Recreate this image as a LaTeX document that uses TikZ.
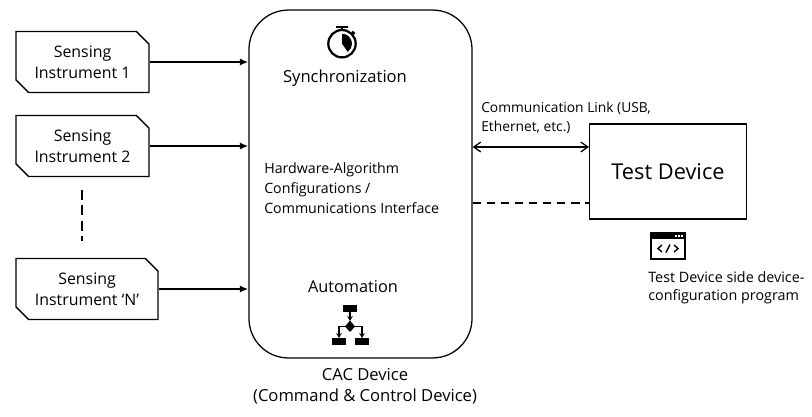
\documentclass[tikz,border=0pt]{standalone}
\usepackage{fontspec}
\setmainfont{Open Sans}
\usepackage{tikz}
\usetikzlibrary{arrows.meta,positioning,shapes.misc,calc}
\tikzset{
  instrument/.style={draw,line width=0.9pt,chamfered rectangle,
    chamfered rectangle corners={north east,south west},
    chamfered rectangle xsep=4.5pt,chamfered rectangle ysep=4.5pt,
    minimum height=43.4pt,inner sep=0pt,align=center,font=\fontsize{11.3}{15}\selectfont},
  feed/.style={line width=1.3pt,-{Latex[length=6pt,width=5pt]}},
  label/.style={inner sep=0pt,align=left,font=\fontsize{10.1}{14.3}\selectfont},
  icon/.style={line width=1.6pt,black}
}
\begin{document}
\begin{tikzpicture}[x=0.025cm,y=-0.025cm]
  \useasboundingbox (0,0) rectangle (812,416);
  % instruments
  \node[instrument,minimum width=94.6pt] (inst1) at (82.5,62) {Sensing\\Instrument 1};
  \node[instrument,minimum width=94.6pt] (inst2) at (82.5,146) {Sensing\\Instrument 2};
  \node[instrument,minimum width=101pt] (instN) at (87,289) {Sensing\\Instrument ‘N’};
  % main devices
  \node[draw,line width=0.9pt,rounded corners=28pt,minimum width=158.6pt,minimum height=247.4pt,inner sep=0pt] (cac) at (360.5,184) {};
  \node[draw,line width=0.9pt,minimum width=111.5pt,minimum height=67.5pt,inner sep=0pt,font=\fontsize{15.5}{18}\selectfont] (test) at (668,171.5) {Test Device};
  % connectors
  \foreach \n in {inst1,inst2,instN}
  {
    \draw[feed] (\n.east) -- (\n.east -| cac.west);
  }
  \coordinate (linkL) at ($(cac.east)+(0,-37)$);
  \coordinate (dashL) at ($(cac.east)+(0,19)$);
  \draw[line width=0.9pt,{Straight Barb[length=5pt,width=7pt]}-{Straight Barb[length=5pt,width=7pt]}] (linkL) -- (linkL -| test.west);
  \draw[line width=0.9pt,dash pattern=on 6pt off 4pt] (dashL) -- (dashL -| test.west);
  \coordinate (gapT) at (82,190);
  \coordinate (gapB) at (82,241);
  \draw[line width=0.9pt,dash pattern=on 7pt off 4pt] (gapT) -- (gapB);
  % texts
  \node[label,font=\fontsize{11.8}{15}\selectfont] (sync) at (345,78) {Synchronization};
  \node[label,font=\fontsize{11.6}{15}\selectfont] (auto) at (353,287) {Automation};
  \node[label,anchor=west] (hw) at (264,188.5) {Hardware-Algorithm\\Configurations /\\Communications Interface};
  \node[label,anchor=west,font=\fontsize{9.8}{13.5}\selectfont] (link) at (481,117.5) {Communication Link (USB,\\Ethernet, etc.)};
  \node[label,anchor=west,font=\fontsize{10.2}{12.5}\selectfont] (prog) at (648,287.5) {Test Device side device-\\configuration program};
  \node[label,align=center,font=\fontsize{11.8}{15}\selectfont] (cap) at (365,386.5) {CAC Device\\(Command \& Control Device)};
  % stopwatch
  \draw[icon] (342,43.7) circle (13.7);
  \fill (342,43.7) -- (342,33.7) arc (-90:55:10) -- cycle;
  \draw[icon] (342,27) -- (342,30);
  \draw[icon] (336,27) -- (348,27);
  \draw[icon] (352,31.5) -- (354.5,34);
  % flow chart
  \fill (343,305) rectangle (357,312);
  \fill (350,320.5) -- (355,326.5) -- (350,332) -- (345,326.5) -- cycle;
  \fill (332,338) rectangle (346,344.5);
  \fill (355,338) rectangle (369,344.5);
  \draw[line width=0.9pt,-{Stealth[length=3.5pt,width=4pt]}] (350,312) -- (350,321);
  \draw[line width=0.9pt,-{Stealth[length=3.5pt,width=4pt]}] (345,326.5) -- (339,326.5) -- (339,338);
  \draw[line width=0.9pt,-{Stealth[length=3.5pt,width=4pt]}] (355,326.5) -- (362,326.5) -- (362,338);
  % code window
  \draw[line width=1pt] (651,233) rectangle (685,259);
  \fill (651,233) rectangle (685,239);
  \foreach \x in {675,678,681}
  {
    \fill[white] (\x,235) rectangle ++(1.5,1.5);
  }
  \draw[line width=1pt] (662,245) -- (658,248.5) -- (662,252);
  \draw[line width=1pt] (670,244.5) -- (666,252.5);
  \draw[line width=1pt] (674,245) -- (678,248.5) -- (674,252);
\end{tikzpicture}
\end{document}
